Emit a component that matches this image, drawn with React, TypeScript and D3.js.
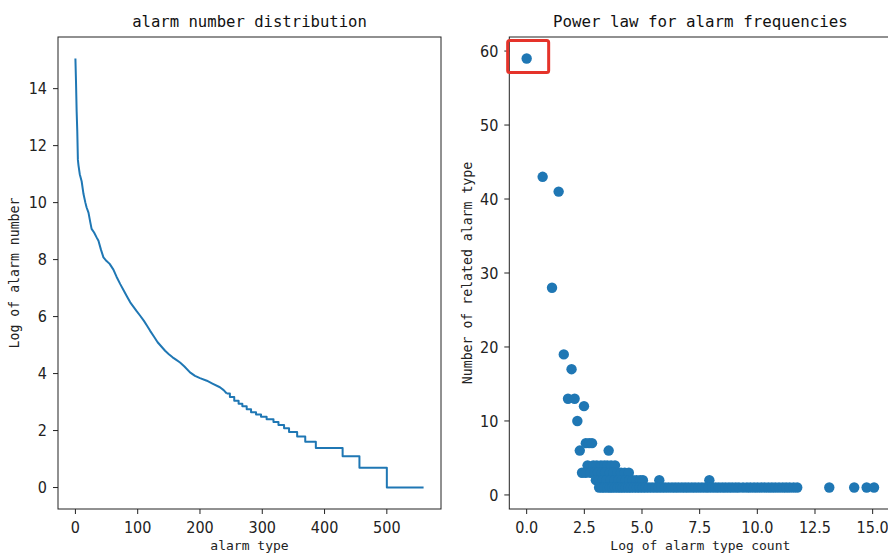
import React from "react";
import * as d3 from "d3";

// Left chart: sorted log alarm counts (index, value)
const lineIdx = [0, 1, 2, 3, 4, 5, 7, 10, 13, 16, 18, 21, 24, 26, 30, 34, 37, 41, 45, 50, 55, 61, 66, 72, 78, 83, 88, 93, 98, 104, 110, 115, 120, 126, 132, 138, 144, 150, 156, 162, 168, 175, 184, 192, 200, 211, 220, 232, 238, 243, 248, 255, 262, 268, 275, 282, 290, 298, 307, 318, 326, 335, 343, 356, 369, 386, 429, 456, 500, 559];
const lineVal = [15.06, 14.2, 13.2, 12.5, 11.5, 11.3, 11.0, 10.75, 10.3, 10.0, 9.83, 9.65, 9.3, 9.08, 8.95, 8.78, 8.66, 8.35, 8.08, 7.95, 7.85, 7.65, 7.4, 7.14, 6.9, 6.7, 6.5, 6.35, 6.2, 6.03, 5.85, 5.68, 5.5, 5.3, 5.1, 4.95, 4.8, 4.68, 4.57, 4.48, 4.39, 4.25, 4.04, 3.92, 3.84, 3.75, 3.65, 3.52, 3.42, 3.3, 3.18, 3.05, 2.94, 2.85, 2.75, 2.64, 2.565, 2.485, 2.398, 2.303, 2.197, 2.079, 1.946, 1.792, 1.609, 1.386, 1.099, 0.693, 0, 0];
// index from which the counts fall in visible integer steps
const stepFrom = 243;

// Right chart: log count (x) vs number of related alarm types (y)
const highX = [0, 0.693, 1.386, 1.099, 1.609, 1.946, 1.792, 2.079, 2.485, 2.197, 2.303, 3.555, 2.565, 2.708, 2.833];
const highY = [59, 43, 41, 28, 19, 17, 13, 13, 12, 10, 6, 6, 7, 7, 7];
const row4X = [2.64, 2.89, 3.04, 3.22, 3.37, 3.5, 3.66, 3.83];
const row3X = [2.4, 2.56, 2.77, 2.94, 3.09, 3.26, 3.4, 3.61, 3.76, 3.93, 4.09, 4.25, 4.43];
const row2X = [3.0, 3.14, 3.3, 3.47, 3.64, 3.81, 3.97, 4.13, 4.3, 4.45, 4.6, 4.76, 4.92, 5.04, 5.75, 7.92];
const row1X = [3.14, 3.26, 3.37, 3.5, 3.61, 3.71, 3.83, 3.95, 4.06, 4.17, 4.29, 4.41, 4.52, 4.65, 4.78, 4.9, 5.03, 5.16, 5.3, 5.44, 5.58, 5.72, 5.86, 6.0, 6.15, 6.3, 6.44, 6.58, 6.73, 6.87, 7.01, 7.16, 7.3, 7.45, 7.6, 7.75, 7.89, 8.04, 8.19, 8.33, 8.48, 8.62, 8.77, 8.91, 9.06, 9.2, 9.38, 9.55, 9.7, 9.86, 10.01, 10.17, 10.32, 10.48, 10.63, 10.78, 10.94, 11.1, 11.25, 11.4, 11.57, 11.73, 13.12, 14.2, 14.74, 15.06];

const leftXTicks = [0, 100, 200, 300, 400, 500];
const leftYTicks = [0, 2, 4, 6, 8, 10, 12, 14];
const rightXTicks = [0, 2.5, 5, 7.5, 10, 12.5, 15];
const rightYTicks = [0, 10, 20, 30, 40, 50, 60];

const W = 888, H = 556;
const BLUE = "#1f77b4";
const MONO = "'DejaVu Sans Mono', monospace";
const TICKF = "'Liberation Sans Narrow', 'DejaVu Sans Condensed', 'Liberation Sans', sans-serif";

function pad(lo: number, hi: number): [number, number] {
  const m = (hi - lo) * 0.05;
  return [lo - m, hi + m];
}

function Frame({ x0, x1, y0, y1 }: any) {
  return <rect x={x0} y={y0} width={x1 - x0} height={y1 - y0} fill="none" stroke="#222" strokeWidth={1} />;
}

export default function App() {
  const T = 37, B = 509;
  // Left
  const L1 = 58, R1 = 441;
  const xL = d3.scaleLinear().domain(pad(0, d3.max(lineIdx)!)).range([L1, R1]);
  const yL = d3.scaleLinear().domain(pad(0, d3.max(lineVal)!)).range([B, T]);
  const pts: [number, number][] = lineIdx.map((d, i) => [d, lineVal[i]]);
  const headPts = pts.filter(p => p[0] <= stepFrom);
  const tailPts = pts.filter(p => p[0] >= stepFrom);
  const headPath = d3.line<[number, number]>().x(d => xL(d[0])).y(d => yL(d[1])).curve(d3.curveLinear)(headPts) || "";
  const tailPath = d3.line<[number, number]>().x(d => xL(d[0])).y(d => yL(d[1])).curve(d3.curveStepAfter)(tailPts) || "";

  // Right
  const L2 = 509.3, R2 = 891.4;
  const allX = [...highX, ...row4X, ...row3X, ...row2X, ...row1X];
  const allY = [...highY, ...row4X.map(() => 4), ...row3X.map(() => 3), ...row2X.map(() => 2), ...row1X.map(() => 1)];
  const xR = d3.scaleLinear().domain(pad(d3.min(allX)!, d3.max(allX)!)).range([L2, R2]);
  const yR = d3.scaleLinear().domain(pad(d3.min(allY)!, d3.max(allY)!)).range([B, T]);

  const cx0 = xR(highX[0]), cy0 = yR(highY[0]);

  return (
    <svg width={W} height={H} style={{ position: "absolute", left: 0, top: 0, background: "#fff" }}>
      <rect x={0} y={0} width={W} height={H} fill="#fff" />
      {/* Left chart */}
      <text x={(L1 + R1) / 2} y={27} textAnchor="middle" fontFamily={MONO} fontSize={15.6} fill="#111">alarm number distribution</text>
      <path d={headPath + tailPath} fill="none" stroke={BLUE} strokeWidth={2} strokeLinejoin="round" />
      <Frame x0={L1} x1={R1} y0={T} y1={B} />
      {leftXTicks.map(t => (
        <g key={"lx" + t}>
          <line x1={xL(t)} x2={xL(t)} y1={B} y2={B + 5} stroke="#222" />
          <text x={xL(t)} y={533} textAnchor="middle" fontFamily={TICKF} fontSize={16} fill="#222">{t}</text>
        </g>
      ))}
      {leftYTicks.map(t => (
        <g key={"ly" + t}>
          <line x1={L1 - 5} x2={L1} y1={yL(t)} y2={yL(t)} stroke="#222" />
          <text x={L1 - 11} y={yL(t)} dy="0.36em" textAnchor="end" fontFamily={TICKF} fontSize={16} fill="#222">{t}</text>
        </g>
      ))}
      <text x={(L1 + R1) / 2} y={550} textAnchor="middle" fontFamily={MONO} fontSize={13} fill="#222">alarm type</text>
      <text transform={`translate(19,${(T + B) / 2}) rotate(-90)`} textAnchor="middle" fontFamily={MONO} fontSize={13.2} fill="#222">Log of alarm number</text>

      {/* Right chart */}
      <text x={(L2 + R2) / 2} y={27} textAnchor="middle" fontFamily={MONO} fontSize={15.8} fill="#111">Power law for alarm frequencies</text>
      {allX.map((x, i) => (
        <circle key={"p" + i} cx={xR(x)} cy={yR(allY[i])} r={5.2} fill={BLUE} />
      ))}
      <Frame x0={L2} x1={R2} y0={T} y1={B} />
      {rightXTicks.map(t => (
        <g key={"rx" + t}>
          <line x1={xR(t)} x2={xR(t)} y1={B} y2={B + 5} stroke="#222" />
          <text x={xR(t)} y={533} textAnchor="middle" fontFamily={TICKF} fontSize={16} fill="#222">{t.toFixed(1)}</text>
        </g>
      ))}
      {rightYTicks.map(t => (
        <g key={"ry" + t}>
          <line x1={L2 - 5} x2={L2} y1={yR(t)} y2={yR(t)} stroke="#222" />
          <text x={L2 - 11} y={yR(t)} dy="0.36em" textAnchor="end" fontFamily={TICKF} fontSize={16} fill="#222">{t}</text>
        </g>
      ))}
      <text x={(L2 + R2) / 2} y={550} textAnchor="middle" fontFamily={MONO} fontSize={13} fill="#222">Log of alarm type count</text>
      <text transform={`translate(472,${(T + B) / 2}) rotate(-90)`} textAnchor="middle" fontFamily={MONO} fontSize={13.2} fill="#222">Number of related alarm type</text>

      {/* Red highlight box */}
      <rect x={cx0 - 19} y={cy0 - 18} width={41} height={32} rx={2} fill="none" stroke="#e5332a" strokeWidth={3} />
    </svg>
  );
}
